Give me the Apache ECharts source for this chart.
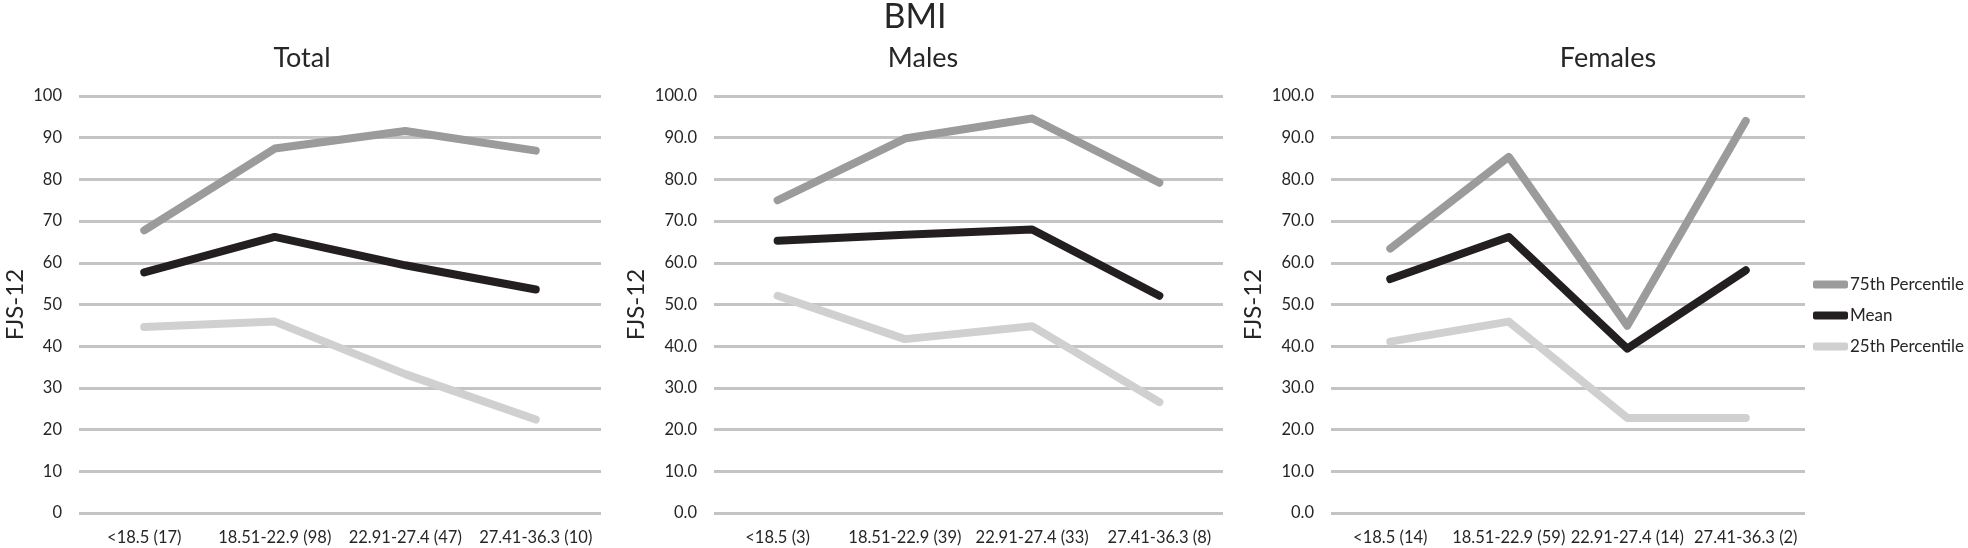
<!DOCTYPE html>
<html>
<head>
<meta charset="utf-8">
<title>BMI</title>
<script src="https://cdn.jsdelivr.net/npm/echarts@6/dist/echarts.min.js"></script>
<style>
  html, body { margin: 0; padding: 0; background: #fff; }
  #bmiChart { width: 1968px; height: 548px; }
</style>
</head>
<body>
<div id="bmiChart"></div>
<script>
// categories per panel (BMI range with n)
var totalCats = ['<18.5 (17)', '18.51-22.9 (98)', '22.91-27.4 (47)', '27.41-36.3 (10)'];
var maleCats = ['<18.5 (3)', '18.51-22.9 (39)', '22.91-27.4 (33)', '27.41-36.3 (8)'];
var femaleCats = ['<18.5 (14)', '18.51-22.9 (59)', '22.91-27.4 (14)', '27.41-36.3 (2)'];

// FJS-12 values
var totalP75 = [67.8, 87.4, 91.6, 86.9];
var totalMean = [57.7, 66.2, 59.4, 53.6];
var totalP25 = [44.6, 45.9, 33.3, 22.4];

var maleP75 = [75.0, 89.8, 94.6, 79.2];
var maleMean = [65.3, 66.7, 68.0, 52.1];
var maleP25 = [52.1, 41.7, 44.8, 26.6];

var femaleP75 = [63.4, 85.4, 44.9, 94.0];
var femaleMean = [56.1, 66.2, 39.4, 58.2];
var femaleP25 = [41.1, 45.9, 22.8, 22.8];

var seriesNames = ['75th Percentile', 'Mean', '25th Percentile'];
var panelTitles = ['Total', 'Males', 'Females'];

var font = 'Lato, "Open Sans", sans-serif';
var textColor = '#262626';
var colors = ['#9b9b9b', '#231f20', '#d0d0d0'];

// outerBoundsMode none: keep the grids where they are (v6 would push grid 1 right)
var grids = [
  { left: 79, width: 522, top: 96, height: 417, outerBoundsMode: 'none' },
  { left: 714, width: 509, top: 96, height: 417, outerBoundsMode: 'none' },
  { left: 1331, width: 474, top: 96, height: 417, outerBoundsMode: 'none' }
];
var nameGaps = [52, 66, 66];

function makeX(i, cats) {
  return {
    type: 'category',
    gridIndex: i,
    data: cats,
    boundaryGap: true,
    axisLine: { show: false },
    axisTick: { show: false },
    axisLabel: { color: textColor, fontSize: 16.5, fontFamily: font, margin: 16, interval: 0 }
  };
}

function makeY(i, decimals) {
  return {
    type: 'value',
    gridIndex: i,
    min: 0,
    max: 100,
    interval: 10,
    name: 'FJS-12',
    nameLocation: 'middle',
    nameRotate: 90,
    nameGap: nameGaps[i],
    nameTextStyle: { color: textColor, fontSize: 24, fontFamily: font },
    axisLine: { show: false },
    axisTick: { show: false },
    axisLabel: {
      color: textColor, fontSize: 16.5, fontFamily: font, margin: 17,
      formatter: function (v) { return v.toFixed(decimals); }
    },
    splitLine: { lineStyle: { color: '#c4c4c4', width: 3 } }
  };
}

function makeLines(i, lists) {
  return lists.map(function (d, k) {
    return {
      name: seriesNames[k],
      type: 'line',
      xAxisIndex: i,
      yAxisIndex: i,
      data: d,
      showSymbol: false,
      symbol: 'none',
      color: colors[k],
      lineStyle: { color: colors[k], width: 8, cap: 'round', join: 'round' },
      z: 10 - k
    };
  });
}

var option = {
  animation: false,
  backgroundColor: '#fff',
  title: [
    { text: 'BMI', left: 910, top: -5, textAlign: 'center',
      textStyle: { color: textColor, fontSize: 34, fontWeight: 'normal', fontFamily: font } },
    { text: panelTitles[0], left: 297, top: 40, textAlign: 'center',
      textStyle: { color: textColor, fontSize: 27, fontWeight: 'normal', fontFamily: font } },
    { text: panelTitles[1], left: 918, top: 40, textAlign: 'center',
      textStyle: { color: textColor, fontSize: 27, fontWeight: 'normal', fontFamily: font } },
    { text: panelTitles[2], left: 1603, top: 40, textAlign: 'center',
      textStyle: { color: textColor, fontSize: 27, fontWeight: 'normal', fontFamily: font } }
  ],
  legend: {
    orient: 'vertical',
    left: 1808,
    top: 271,
    data: seriesNames,
    icon: 'roundRect',
    itemWidth: 35,
    itemHeight: 8,
    itemGap: 14,
    textStyle: { color: textColor, fontSize: 17, fontFamily: font, padding: [0, 0, 0, -3] }
  },
  grid: grids,
  xAxis: [makeX(0, totalCats), makeX(1, maleCats), makeX(2, femaleCats)],
  yAxis: [makeY(0, 0), makeY(1, 1), makeY(2, 1)],
  series: []
    .concat(makeLines(0, [totalP75, totalMean, totalP25]))
    .concat(makeLines(1, [maleP75, maleMean, maleP25]))
    .concat(makeLines(2, [femaleP75, femaleMean, femaleP25]))
};

var bmiChart = echarts.init(document.getElementById('bmiChart'));
bmiChart.setOption(option);
</script>
</body>
</html>
